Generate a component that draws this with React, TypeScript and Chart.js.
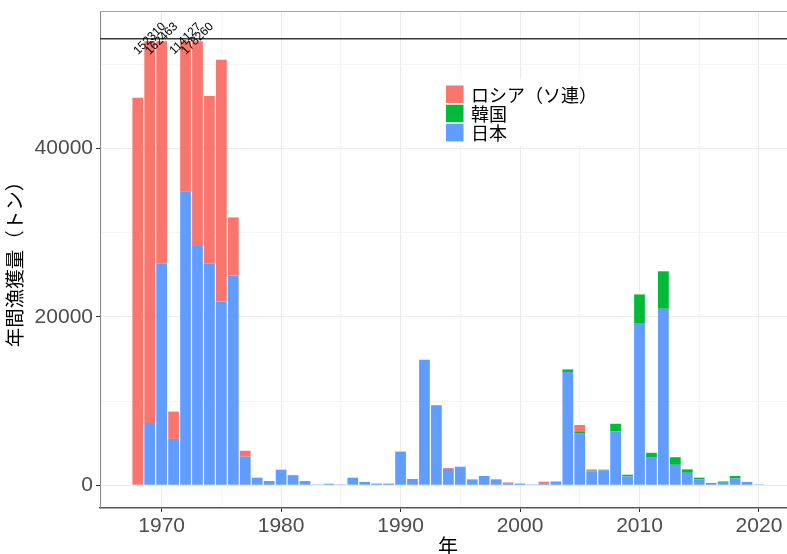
import React, { useEffect, useRef } from "react";
import { Chart, registerables } from "chart.js";

Chart.register(...registerables);

// ---- data ----
const years: number[] = [
  1968, 1969, 1970, 1971, 1972, 1973, 1974, 1975, 1976, 1977,
  1978, 1979, 1980, 1981, 1982, 1983, 1984, 1985, 1986, 1987,
  1988, 1989, 1990, 1991, 1992, 1993, 1994, 1995, 1996, 1997,
  1998, 1999, 2000, 2001, 2002, 2003, 2004, 2005, 2006, 2007,
  2008, 2009, 2010, 2011, 2012, 2013, 2014, 2015, 2016, 2017,
  2018, 2019, 2020,
];

const japan: number[] = [
  0, 7400, 26300, 5500, 34900, 28400, 26300, 21800, 24900, 3400,
  900, 500, 1850, 1200, 500, 100, 180, 100, 900, 400,
  200, 200, 4000, 750, 14900, 9500, 1950, 2200, 700, 1100,
  700, 250, 200, 100, 250, 450, 13450, 6200, 1650, 1750,
  6400, 1050, 19250, 3350, 20950, 2430, 1480, 700, 150, 300,
  800, 400, 100,
];

const korea: number[] = [
  0, 0, 0, 0, 0, 0, 0, 0, 0, 0,
  0, 0, 0, 0, 0, 0, 0, 0, 0, 0,
  0, 0, 0, 0, 0, 0, 0, 0, 0, 0,
  0, 0, 0, 0, 0, 0, 300, 200, 80, 100,
  900, 200, 3400, 500, 4450, 900, 400, 200, 100, 150,
  300, 0, 0,
];

const russia: number[] = [
  46000, 144910, 136163, 3250, 79227, 149860, 19900, 28700, 6900, 700,
  0, 0, 0, 0, 0, 0, 0, 0, 0, 0,
  0, 0, 0, 0, 0, 0, 100, 0, 0, 0,
  0, 80, 0, 0, 170, 0, 0, 750, 150, 0,
  0, 0, 0, 0, 0, 0, 0, 0, 0, 0,
  0, 0, 0,
];

const overYears: number[] = [1969, 1970, 1972, 1973];
const overLabels: string[] = ["152310", "162463", "114127", "178260"];

const seriesNames: string[] = ["日本", "韓国", "ロシア（ソ連）"];
const seriesColors: string[] = ["#619CFF", "#00BA38", "#F8766D"];

const yTicks: number[] = [0, 10000, 20000, 30000, 40000, 50000];
const xTicks: number[] = [1965, 1970, 1975, 1980, 1985, 1990, 1995, 2000, 2005, 2010, 2015, 2020];

const HLINE = 53000;
const CAP = 52700;

const LATIN = "'Liberation Sans', Arial, sans-serif";
const CJK = "'Noto Sans CJK JP', 'Noto Sans', sans-serif";

const overlayPlugin = {
  id: "overlay",
  afterDatasetsDraw(chart: any) {
    const { ctx, chartArea: a, scales } = chart;
    const x = scales.x;
    const y = scales.y;
    ctx.save();
    // panel border top/right
    ctx.strokeStyle = "#A8A8A8";
    ctx.lineWidth = 1;
    ctx.beginPath();
    ctx.moveTo(a.left, a.top + 0.5);
    ctx.lineTo(a.right, a.top + 0.5);
    ctx.lineTo(a.right - 0.5, a.bottom);
    ctx.stroke();

    // horizontal reference line
    const yl = y.getPixelForValue(HLINE);
    ctx.strokeStyle = "#3a3a3a";
    ctx.lineWidth = 1.5;
    ctx.beginPath();
    ctx.moveTo(a.left, yl);
    ctx.lineTo(a.right, yl);
    ctx.stroke();

    // overflow labels
    ctx.font = `12px ${LATIN}`;
    ctx.fillStyle = "#000";
    ctx.textAlign = "center";
    ctx.textBaseline = "middle";
    overYears.forEach((yr, i) => {
      const px = x.getPixelForValue(yr);
      ctx.save();
      ctx.translate(px, yl);
      ctx.rotate(-Math.PI / 4);
      ctx.fillText(overLabels[i], 0, 0);
      ctx.restore();
    });

    // legend
    const lx = a.left + 338;
    const ly = a.top + 68;
    ctx.fillStyle = "#FFFFFF";
    ctx.fillRect(lx, ly, 190, 67);
    const ds = chart.data.datasets.slice().reverse();
    const key = 17.5;
    const pitch = 19.2;
    ctx.font = `18px ${CJK}`;
    ctx.textAlign = "left";
    ctx.textBaseline = "middle";
    ds.forEach((d: any, i: number) => {
      const ky = ly + 6.5 + i * pitch;
      ctx.fillStyle = d.backgroundColor;
      ctx.fillRect(lx + 8, ky, key, key);
      ctx.fillStyle = "#000";
      ctx.fillText(d.label, lx + 33, ky + key / 2 + 0.5);
    });
    ctx.restore();
  },
};

export default function App() {
  const ref = useRef<HTMLCanvasElement | null>(null);

  useEffect(() => {
    if (!ref.current) return;
    const seriesData = [japan, korea, russia];
    const datasets = seriesData.map((arr, si) => ({
      label: seriesNames[si],
      backgroundColor: seriesColors[si],
      borderWidth: 0,
      stack: "total",
      barPercentage: 0.9,
      categoryPercentage: 1,
      data: years.map((yr, i) => {
        let v = arr[i];
        if (si === 2) {
          v = Math.max(0, Math.min(v, CAP - japan[i] - korea[i]));
        }
        return { x: yr, y: v };
      }),
    }));

    const chart = new Chart(ref.current, {
      type: "bar",
      data: { datasets },
      plugins: [overlayPlugin],
      options: {
        responsive: false,
        animation: false,
        layout: { padding: { top: 11, right: 4, left: 0, bottom: 0 } },
        plugins: {
          legend: { display: false },
          tooltip: { enabled: false },
        },
        scales: {
          x: {
            type: "linear",
            min: 1964.84,
            max: 2023.1,
            offset: false,
            afterBuildTicks: (s: any) => {
              s.ticks = xTicks.map((v) => ({ value: v }));
            },
            afterFit: (s: any) => {
              s.height = 62;
              s.paddingLeft = 0;
              s.paddingRight = 0;
            },
            ticks: {
              autoSkip: false,
              maxRotation: 0,
              padding: 2,
              color: "#4D4D4D",
              font: { family: LATIN, size: 21 },
              callback: (v: any) => (Number(v) % 10 === 0 ? String(v) : ""),
            },
            grid: {
              offset: false,
              color: (c: any) => (c.tick && c.tick.value % 10 === 0 ? "#EBEBEB" : "#F5F5F5"),
              tickColor: (c: any) => (c.tick && c.tick.value % 10 === 0 ? "#333333" : "rgba(0,0,0,0)"),
              tickLength: 4,
              lineWidth: 1,
            },
            border: { display: true, color: "#555555", width: 1.5 },
            title: {
              display: true,
              text: "年",
              color: "#000",
              font: { family: CJK, size: 20 },
              padding: { top: 0, bottom: 12 },
            },
          },
          y: {
            min: -2700,
            max: 56300,
            afterBuildTicks: (s: any) => {
              s.ticks = yTicks.map((v) => ({ value: v }));
            },
            afterFit: (s: any) => {
              s.width = 100;
              s.paddingTop = 0;
              s.paddingBottom = 0;
            },
            ticks: {
              padding: 3,
              color: "#4D4D4D",
              font: { family: LATIN, size: 21 },
              callback: (v: any) => (Number(v) % 20000 === 0 ? String(v) : ""),
            },
            grid: {
              color: (c: any) => (c.tick && c.tick.value % 20000 === 0 ? "#EBEBEB" : "#F5F5F5"),
              tickColor: (c: any) => (c.tick && c.tick.value % 20000 === 0 ? "#333333" : "rgba(0,0,0,0)"),
              tickLength: 4,
              lineWidth: 1,
            },
            border: { display: true, color: "#8A8A8A", width: 1 },
            title: {
              display: true,
              text: "年間漁獲量（トン）",
              color: "#000",
              font: { family: CJK, size: 19.5 },
              padding: { top: 3, bottom: 0 },
            },
          },
        },
      },
    });
    return () => chart.destroy();
  }, []);

  return (
    <div
      style={{
        position: "fixed",
        left: 0,
        top: 0,
        width: 787,
        height: 554,
        overflow: "hidden",
        background: "#fff",
      }}
    >
      <canvas ref={ref} width={800} height={570} style={{ display: "block" }} />
    </div>
  );
}
